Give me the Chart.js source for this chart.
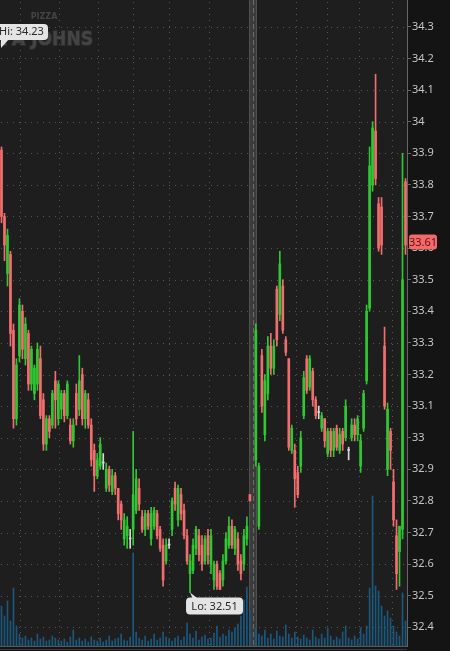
<!DOCTYPE html>
<html>
<head>
<meta charset="utf-8">
<style>
  html, body { margin: 0; padding: 0; background: #141414; }
  #wrap { width: 450px; height: 651px; }
</style>
<script src="https://cdn.jsdelivr.net/npm/chart.js@4.4.1/dist/chart.umd.min.js"></script>
</head>
<body>
<div id="wrap"><canvas id="chart" width="450" height="651"></canvas></div>
<script>
// --- data ---
const opens = [
  33.91, 33.70, 33.52, 33.58, 33.34, 33.06, 33.26, 33.40, 33.25, 33.33,
  33.17, 33.14, 33.17, 33.25, 33.12, 32.98, 33.06, 33.04, 33.18, 33.06,
  33.09, 33.14, 33.07, 33.04, 32.99, 33.14, 33.09, 33.20, 33.06, 33.12,
  33.04, 32.96, 32.88, 32.91, 32.92, 32.84, 32.90, 32.83, 32.88, 32.84,
  32.79, 32.68, 32.69, 32.68, 32.71, 32.77, 32.84, 32.75, 32.71, 32.76,
  32.68, 32.72, 32.76, 32.71, 32.66, 32.61, 32.66, 32.71, 32.84, 32.74,
  32.82, 32.77, 32.69, 32.57, 32.58, 32.65, 32.69, 32.66, 32.61, 32.69,
  32.60, 32.55, 32.60, 32.57, 32.55, 32.61, 32.66, 32.72, 32.65, 32.68,
  32.61, 32.60, 32.68, 32.82, null, 32.93, 32.72, 33.26, 33.01, 33.14,
  33.29, 33.22, 33.47, 33.39, 33.48, 33.31, 33.25, 32.96, 32.96, 32.89,
  32.91, 33.07, 33.25, 33.16, 33.21, 33.12, 33.08, 33.03, 33.06, 32.95,
  33.02, 32.96, 33.03, 32.96, 33.02, 33.00, 32.96, 33.00, 33.04, 33.01,
  32.91, 33.03, 33.18, 33.41, 33.80, 33.97, 33.74, 33.73, 33.29, 32.90,
  33.02, 32.86, 32.69, 32.64, 32.71, 33.81
];
const highs = [
  33.92, 33.71, 33.66, 33.59, 33.36, 33.25, 33.44, 33.42, 33.38, 33.34,
  33.29, 33.23, 33.30, 33.29, 33.14, 33.07, 33.07, 33.15, 33.21, 33.18,
  33.15, 33.15, 33.18, 33.06, 33.06, 33.17, 33.26, 33.22, 33.15, 33.14,
  33.06, 32.98, 32.95, 33.00, 32.95, 32.92, 32.91, 32.90, 32.89, 32.84,
  32.80, 32.76, 32.75, 32.71, 33.02, 32.90, 32.87, 32.77, 32.77, 32.77,
  32.78, 32.78, 32.77, 32.72, 32.68, 32.68, 32.68, 32.81, 32.86, 32.85,
  32.84, 32.79, 32.71, 32.63, 32.68, 32.72, 32.71, 32.69, 32.69, 32.71,
  32.71, 32.61, 32.61, 32.58, 32.63, 32.70, 32.75, 32.74, 32.72, 32.70,
  32.63, 32.71, 32.75, 32.82, null, 33.36, 32.92, 33.28, 33.20, 33.32,
  33.33, 33.31, 33.48, 33.59, 33.50, 33.32, 33.25, 33.04, 32.98, 32.91,
  33.02, 33.21, 33.26, 33.26, 33.22, 33.13, 33.10, 33.08, 33.06, 33.03,
  33.03, 33.03, 33.04, 33.03, 33.03, 33.12, 32.97, 33.06, 33.06, 33.07,
  33.01, 33.15, 33.42, 33.92, 34.00, 34.15, 33.76, 33.76, 33.35, 33.11,
  33.03, 32.90, 32.74, 32.72, 33.90, 33.82
];
const lows = [
  33.68, 33.56, 33.48, 33.29, 33.03, 33.04, 33.24, 33.25, 33.23, 33.15,
  33.15, 33.12, 33.15, 33.06, 32.96, 32.96, 33.00, 33.03, 33.03, 33.04,
  33.06, 33.05, 33.06, 32.98, 32.97, 33.04, 33.07, 33.04, 33.03, 33.03,
  32.91, 32.83, 32.87, 32.90, 32.90, 32.83, 32.83, 32.82, 32.82, 32.74,
  32.71, 32.66, 32.65, 32.65, 32.66, 32.76, 32.77, 32.70, 32.69, 32.71,
  32.66, 32.71, 32.68, 32.64, 32.53, 32.60, 32.65, 32.69, 32.77, 32.72,
  32.74, 32.68, 32.60, 32.51, 32.57, 32.63, 32.61, 32.58, 32.60, 32.60,
  32.57, 32.52, 32.52, 32.52, 32.53, 32.60, 32.65, 32.65, 32.63, 32.58,
  32.55, 32.58, 32.66, 32.80, null, 32.91, 32.71, 33.08, 32.99, 33.12,
  33.20, 33.20, 33.29, 33.37, 33.33, 33.26, 32.96, 32.95, 32.78, 32.81,
  32.89, 33.06, 33.14, 33.15, 33.10, 33.06, 33.06, 33.02, 32.97, 32.94,
  32.94, 32.94, 32.96, 32.95, 32.96, 32.99, 32.93, 32.99, 32.99, 32.99,
  32.89, 33.02, 33.17, 33.40, 33.78, 33.80, 33.59, 33.58, 33.09, 32.88,
  32.90, 32.72, 32.52, 32.53, 32.68, 33.58
];
const closes = [
  33.70, 33.61, 33.64, 33.33, 33.06, 33.23, 33.42, 33.28, 33.36, 33.17,
  33.28, 33.22, 33.28, 33.07, 32.98, 33.06, 33.02, 33.14, 33.12, 33.17,
  33.14, 33.07, 33.17, 32.99, 33.04, 33.06, 33.18, 33.06, 33.14, 33.04,
  32.93, 32.88, 32.93, 32.98, 32.92, 32.90, 32.85, 32.88, 32.84, 32.76,
  32.74, 32.74, 32.72, 32.68, 32.82, 32.87, 32.79, 32.71, 32.76, 32.72,
  32.76, 32.77, 32.69, 32.65, 32.55, 32.66, 32.66, 32.80, 32.79, 32.84,
  32.76, 32.69, 32.61, 32.61, 32.66, 32.71, 32.63, 32.60, 32.68, 32.63,
  32.69, 32.60, 32.53, 32.52, 32.61, 32.68, 32.72, 32.66, 32.71, 32.60,
  32.57, 32.69, 32.72, 32.80, null, 33.34, 32.91, 33.10, 33.18, 33.29,
  33.22, 33.29, 33.31, 33.55, 33.34, 33.27, 32.97, 33.03, 32.87, 32.82,
  33.00, 33.19, 33.15, 33.25, 33.12, 33.07, 33.08, 33.07, 32.99, 33.02,
  32.96, 33.02, 32.97, 33.01, 32.98, 33.10, 32.96, 33.04, 33.01, 33.06,
  32.99, 33.14, 33.40, 33.86, 33.98, 33.82, 33.60, 33.61, 33.10, 33.09,
  32.96, 32.74, 32.57, 32.72, 33.50, 33.61
];
// volume, thousands of shares
const volume = [
  40, 30, 45, 25, 58, 20, 12, 8, 10, 6,
  8, 5, 12, 7, 9, 5, 6, 10, 8, 6,
  5, 7, 4, 9, 16, 6, 8, 5, 7, 4,
  9, 6, 5, 8, 4, 6, 10, 5, 7, 8,
  12, 6, 5, 9, 93, 14, 8, 6, 10, 5,
  7, 12, 6, 8, 14, 9, 7, 5, 8, 10,
  6, 9, 23, 12, 8, 15, 6, 9, 11, 7,
  8, 13, 20, 9, 12, 10, 16, 14, 18, 22,
  30, 46, 59, 35, null, 18, 12, 10, 16, 8,
  12, 7, 15, 10, 9, 21, 12, 8, 14, 9,
  7, 11, 8, 6, 16, 9, 7, 12, 8, 18,
  10, 6, 9, 7, 14, 20, 8, 6, 10, 7,
  18, 12, 20, 58, 150, 60, 55, 40, 30, 35,
  28, 20, 14, 10, 53, 25
];
const timeTicks = [6.2, 19.2, 32.2, 43.9, 56.0, 69.3, 98.4, 108.8, 119.5, 130.5];
const sessionBreak = 84;
const dayHigh = 34.23;
const dayLow = 32.51;
const dayLowIndex = 63;
const lastPrice = 33.61;

// --- colours ---
const UP = "#2fc832";
const DOWN = "#f26d6d";
const FLAT = "#d8d8d8";
const candleColor = opens.map((o, i) =>
  o === null ? UP : closes[i] > o ? UP : closes[i] < o ? DOWN : FLAT
);

const wickData = highs.map((h, i) => ({ x: i, y: h === null ? null : [lows[i], h] }));
const bodyData = opens.map((o, i) => ({ x: i, y: o === null ? null : [Math.min(o, closes[i]), Math.max(o, closes[i])] }));
const volData = volume.map((v, i) => ({ x: i, y: v }));

function roundRect(ctx, x, y, w, h, r) {
  ctx.beginPath();
  ctx.moveTo(x + r, y);
  ctx.lineTo(x + w - r, y);
  ctx.quadraticCurveTo(x + w, y, x + w, y + r);
  ctx.lineTo(x + w, y + h - r);
  ctx.quadraticCurveTo(x + w, y + h, x + w - r, y + h);
  ctx.lineTo(x + r, y + h);
  ctx.quadraticCurveTo(x, y + h, x, y + h - r);
  ctx.lineTo(x, y + r);
  ctx.quadraticCurveTo(x, y, x + r, y);
  ctx.closePath();
}

// background, dotted grid, session break, watermark
const backdrop = {
  id: "backdrop",
  beforeDraw(chart) {
    const { ctx, chartArea: a, scales } = chart;
    ctx.save();
    ctx.fillStyle = "#141414";
    ctx.fillRect(0, 0, chart.width, chart.height);
    ctx.fillStyle = "#1e1e1e";
    ctx.fillRect(a.left, a.top, a.right - a.left, a.bottom - a.top);

    // watermark
    ctx.fillStyle = "#444444";
    ctx.strokeStyle = "#2c2c2c";
    ctx.textAlign = "center";
    ctx.textBaseline = "alphabetic";
    ctx.font = "bold 8px 'DejaVu Sans'";
    ctx.fillText("PIZZA", 44, 19);
    ctx.font = "bold 19px 'DejaVu Sans Condensed'";
    ctx.textAlign = "right";
    ctx.lineWidth = 2;
    ctx.strokeText("PAPA JOHNS", 93, 45);
    ctx.fillText("PAPA JOHNS", 93, 45);

    // dotted grid
    ctx.fillStyle = "#555555";
    scales.y.ticks.forEach(t => {
      const y = Math.round(scales.y.getPixelForValue(t.value));
      for (let x = a.left + 1; x < a.right; x += 6) ctx.fillRect(x, y, 1, 1);
    });
    timeTicks.forEach(v => {
      const x = Math.round(scales.x.getPixelForValue(v));
      for (let y = a.top + 2; y < a.bottom; y += 6) ctx.fillRect(x, y, 1, 1);
    });

    // session break band
    const bx = Math.round(scales.x.getPixelForValue(sessionBreak));
    ctx.fillStyle = "#3b3b3b";
    ctx.fillRect(bx - 4, a.top, 8, a.bottom - a.top);
    ctx.fillStyle = "#505050";
    ctx.fillRect(bx - 4, a.top, 1, a.bottom - a.top);
    ctx.fillRect(bx + 3, a.top, 1, a.bottom - a.top);
    ctx.strokeStyle = "#6a6a6a";
    ctx.lineWidth = 1;
    ctx.setLineDash([5, 3]);
    ctx.beginPath();
    ctx.moveTo(bx + 0.5, a.top);
    ctx.lineTo(bx + 0.5, a.bottom);
    ctx.stroke();
    ctx.restore();
  }
};

// hi / lo bubbles, last-price tag, bottom rule
const overlay = {
  id: "overlay",
  afterDraw(chart) {
    const { ctx, chartArea: a, scales } = chart;
    ctx.save();
    ctx.fillStyle = "#5a5a5a";
    ctx.fillRect(a.left, a.bottom, a.right - a.left, 1);
    ctx.fillStyle = "#3a3a3a";
    ctx.fillRect(a.left, a.bottom + 3, a.right - a.left, 1);

    ctx.font = "11px 'Noto Sans'";
    ctx.textBaseline = "middle";

    // Hi bubble
    const hy = scales.y.getPixelForValue(dayHigh);
    ctx.fillStyle = "#e4e4e4";
    roundRect(ctx, -6, hy - 25, 54, 16, 4);
    ctx.fill();
    ctx.beginPath();
    ctx.moveTo(1, hy - 10);
    ctx.lineTo(9, hy - 10);
    ctx.lineTo(1, hy - 1);
    ctx.closePath();
    ctx.fill();
    ctx.fillStyle = "#2a2a2a";
    ctx.textAlign = "left";
    ctx.fillText("Hi: " + dayHigh.toFixed(2), -1, hy - 17);

    // Lo bubble
    const lx = scales.x.getPixelForValue(dayLowIndex);
    const ly = scales.y.getPixelForValue(dayLow);
    ctx.fillStyle = "#e4e4e4";
    ctx.beginPath();
    ctx.moveTo(lx, ly);
    ctx.lineTo(lx + 3, ly + 7);
    ctx.lineTo(lx + 9, ly + 7);
    ctx.closePath();
    ctx.fill();
    roundRect(ctx, lx - 4, ly + 5, 57, 17, 4);
    ctx.fill();
    ctx.fillStyle = "#2a2a2a";
    ctx.textAlign = "center";
    ctx.fillText("Lo: " + dayLow.toFixed(2), lx + 24.5, ly + 14);

    // last price tag
    const py = scales.y.getPixelForValue(lastPrice) - 3;
    ctx.fillStyle = "#f26a6a";
    roundRect(ctx, a.right + 2, py - 7.5, 28, 15, 3);
    ctx.fill();
    ctx.fillStyle = "#6a0c0c";
    ctx.fillText(lastPrice.toFixed(2), a.right + 16, py + 0.5);
    ctx.restore();
  }
};

new Chart(document.getElementById("chart"), {
  type: "bar",
  data: {
    datasets: [
      {
        label: "body",
        data: bodyData,
        backgroundColor: candleColor,
        barThickness: 2,
        minBarLength: 1,
        grouped: false,
        order: 1,
        yAxisID: "y"
      },
      {
        label: "wick",
        data: wickData,
        backgroundColor: candleColor,
        barThickness: 1,
        grouped: false,
        order: 2,
        yAxisID: "y"
      },
      {
        label: "volume",
        data: volData,
        backgroundColor: "#1b587e",
        barThickness: 1,
        grouped: false,
        order: 3,
        yAxisID: "yv"
      }
    ]
  },
  options: {
    responsive: false,
    animation: false,
    devicePixelRatio: 1,
    layout: { padding: { left: 0, right: 0, top: 0, bottom: 5 } },
    plugins: { legend: { display: false }, tooltip: { enabled: false } },
    scales: {
      x: { type: "linear", display: false, offset: false, min: -0.5, max: 135.5 },
      y: {
        position: "right",
        min: 32.341,
        max: 34.385,
        ticks: {
          stepSize: 0.1,
          includeBounds: false,
          color: "#c4c4c4",
          padding: 1,
          font: { family: "Noto Sans", size: 11 },
          callback: v => String(+v.toFixed(1))
        },
        grid: { drawOnChartArea: false, drawTicks: true, tickLength: 4, color: "#666666" },
        border: { display: true, color: "#666666" },
        afterFit: s => { s.width = 43; s.paddingTop = 0; s.paddingBottom = 0; }
      },
      yv: { display: false, min: 0, max: 646 }
    }
  },
  plugins: [backdrop, overlay]
});
</script>
</body>
</html>
